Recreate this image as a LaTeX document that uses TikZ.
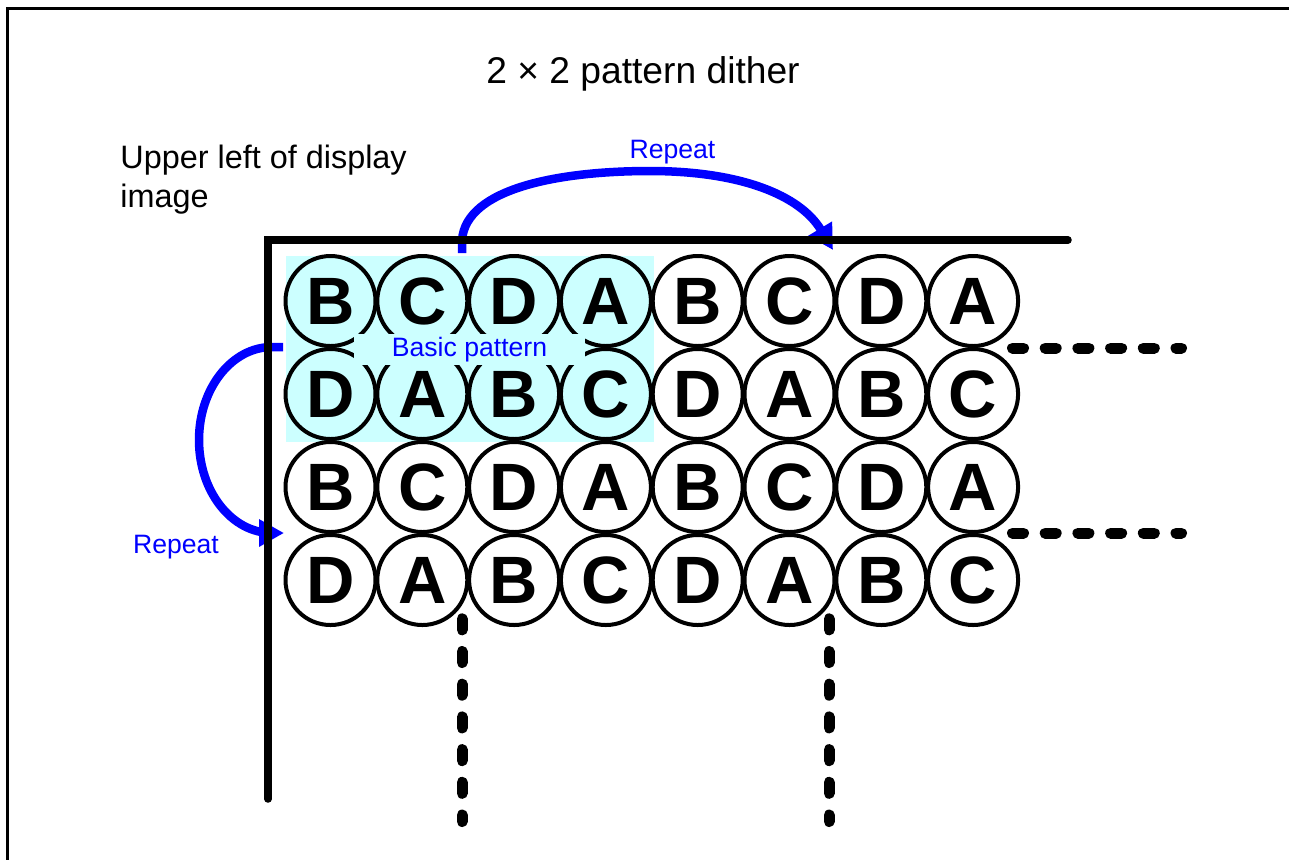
\documentclass[tikz,border=0pt]{standalone}
\usepackage{fontspec}
\setmainfont{Liberation Sans}
\usetikzlibrary{arrows.meta}
\definecolor{paleCyan}{RGB}{204,255,255}
\definecolor{pureBlue}{RGB}{0,0,255}
\begin{document}
\begin{tikzpicture}[x=0.5pt,y=-0.5pt,
  cell/.style={circle,draw,line width=2pt,minimum size=45pt,inner sep=0pt,
    font=\fontsize{33.5}{33.5}\selectfont\bfseries},
  bluearrow/.style={draw=pureBlue,line width=4.25pt,-{Triangle[length=12.5pt,width=13pt]}},
  axisline/.style={line width=3.75pt,line cap=round},
  dotline/.style={line width=5.5pt,line cap=round,dash pattern=on 5.5pt off 10.85pt},
  bluelabel/.style={text=pureBlue,font=\fontsize{13.3}{16}\selectfont,inner sep=0pt}]
\useasboundingbox (0,0) rectangle (1289,859);
% page frame
\draw[line width=1.5pt] (7.5,8.5) rectangle (1320,890);
% title and caption
\node[font=\fontsize{18.6}{22}\selectfont,anchor=base,inner sep=0pt] (title) at (643,83) {2 × 2 pattern dither};
\node[font=\fontsize{16.2}{19.5}\selectfont,align=left,anchor=north west,inner sep=0pt] (upperleft) at (120,145) {Upper left of display\\image};
% basic pattern background
\fill[paleCyan] (286,256) rectangle (654,442);
% cells
\foreach \seq [count=\r] in {{B,C,D,A,B,C,D,A},{D,A,B,C,D,A,B,C},{B,C,D,A,B,C,D,A},{D,A,B,C,D,A,B,C}} {
  \foreach \l [count=\c] in \seq {
    \node[cell] (c\r\c) at ({330.5+91.8*(\c-1)},{301+93*(\r-1)}) {\l};
  }
}
\node[bluelabel,fill=paleCyan,minimum width=115.5pt,inner ysep=1.5pt,anchor=base] (basic) at (469.5,356) {Basic pattern};
% coordinates
\coordinate (rtopA) at (462,253);
\coordinate (rtopB) at (833,250);
\coordinate (rleftA) at (283,347);
\coordinate (rleftB) at (284,533);
\coordinate (axBottom) at (268,799);
\coordinate (axCorner) at (268,240);
\coordinate (axRight) at (1068,240);
\coordinate (h1a) at (1012.5,348);
\coordinate (h1b) at (1181.5,348);
\coordinate (h2a) at (1012.5,533);
\coordinate (h2b) at (1181.5,533);
\coordinate (v1a) at (462,618.8);
\coordinate (v1b) at (462,821.5);
\coordinate (v2a) at (829,618.8);
\coordinate (v2b) at (829,821.5);
% blue repeat arrows
\draw[bluearrow] (rtopA) -- (462,240) .. controls (466,188) and (560,171) .. (650,171)
  .. controls (740,171) and (800,195) .. (rtopB);
\draw[bluearrow] (rleftA) -- (272,347) .. controls (231.7,347) and (199,388.6) .. (199,440)
  .. controls (199,491.4) and (231.7,533) .. (272,533) -- (rleftB);
\node[bluelabel,anchor=base] (repeatTop) at (672.5,158) {Repeat};
\node[bluelabel,anchor=base] (repeatLeft) at (176,553) {Repeat};
% display edges
\draw[axisline] (axBottom) -- (axCorner) -- (axRight);
% continuation marks
\draw[dotline] (h1a) -- (h1b);
\draw[dotline] (h2a) -- (h2b);
\draw[dotline] (v1a) -- (v1b);
\draw[dotline] (v2a) -- (v2b);
\end{tikzpicture}
\end{document}
